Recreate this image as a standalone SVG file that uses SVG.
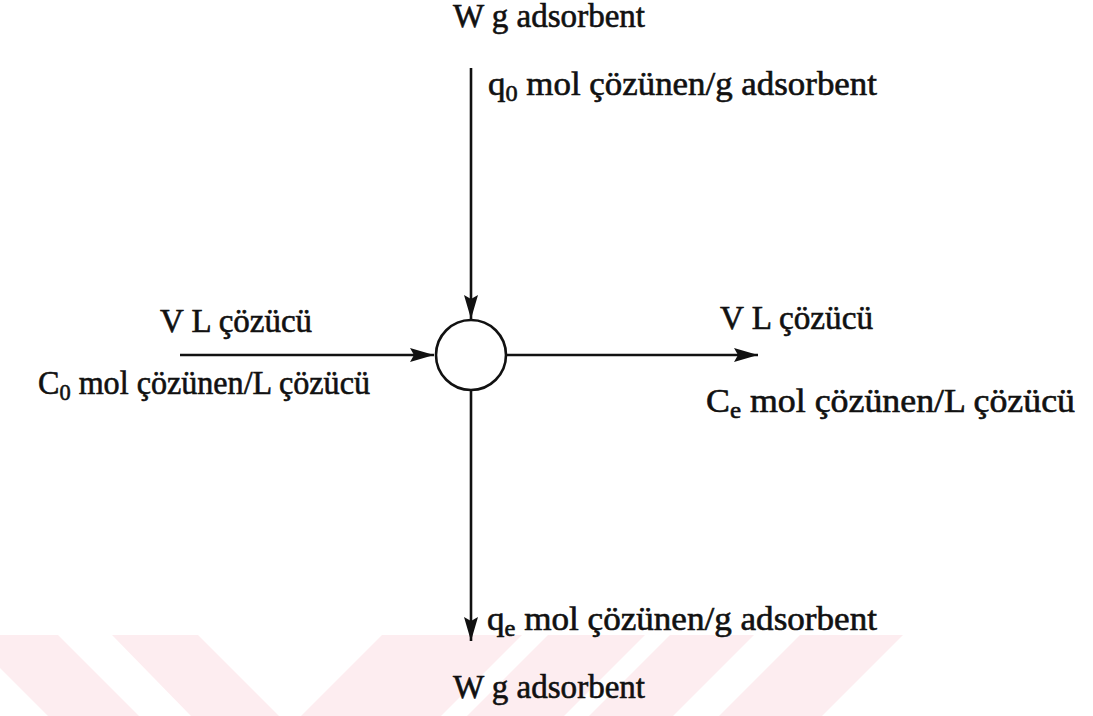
<svg xmlns="http://www.w3.org/2000/svg" width="1093" height="716" viewBox="0 0 1093 716">
<style>
.t{font-family:"Liberation Serif","Times New Roman",serif;font-size:33px;fill:#111;stroke:#111;stroke-width:0.6}
.s{font-size:23px}
.ln{stroke:#111;stroke-width:2.6;fill:none}
.wm{fill:#fdedf0}
</style>
<defs>
<marker id="ah" markerUnits="userSpaceOnUse" markerWidth="26" markerHeight="16" refX="24" refY="8" orient="auto">
<path d="M0,1 L24,8 L0,15 L4,8 z" fill="#111"/>
</marker>
</defs>
<g id="watermark">
<polygon class="wm" points="-33,635 58,635 139,716 48,716"/>
<polygon class="wm" points="112,635 198,635 279,716 191,716"/>
<polygon class="wm" points="382,635 522,635 441,716 301,716"/>
<polygon class="wm" points="548,635 645,635 564,716 467,716"/>
<polygon class="wm" points="670,635 754,635 673,716 589,716"/>
<polygon class="wm" points="800,635 903,635 822,716 719,716"/>
</g>
<g id="connectors">
<line class="ln" x1="471" y1="68" x2="471" y2="319" marker-end="url(#ah)"/>
<line class="ln" x1="180" y1="355" x2="434" y2="355" marker-end="url(#ah)"/>
<line class="ln" x1="506" y1="355" x2="758" y2="355" marker-end="url(#ah)"/>
<line class="ln" x1="471" y1="390" x2="471" y2="641" marker-end="url(#ah)"/>
</g>
<g id="mixer">
<circle cx="471" cy="355" r="35" fill="#fff" stroke="#111" stroke-width="2.6"/>
</g>
<g id="top-label">
<text class="t" x="453" y="27" textLength="192" lengthAdjust="spacingAndGlyphs">W g adsorbent</text>
<text class="t" x="488" y="95" textLength="389" lengthAdjust="spacingAndGlyphs">q<tspan class="s" dy="6">0</tspan><tspan dy="-6"> mol çözünen/g adsorbent</tspan></text>
</g>
<g id="left-label">
<text class="t" x="160" y="332" textLength="152" lengthAdjust="spacingAndGlyphs">V L çözücü</text>
<text class="t" x="38" y="394" textLength="332" lengthAdjust="spacingAndGlyphs">C<tspan class="s" dy="6">0</tspan><tspan dy="-6"> mol çözünen/L çözücü</tspan></text>
</g>
<g id="right-label">
<text class="t" x="720" y="329" textLength="153" lengthAdjust="spacingAndGlyphs">V L çözücü</text>
<text class="t" x="706" y="412" textLength="369" lengthAdjust="spacingAndGlyphs">C<tspan class="s" dy="6">e</tspan><tspan dy="-6"> mol çözünen/L çözücü</tspan></text>
</g>
<g id="bottom-label">
<text class="t" x="487" y="630" textLength="390" lengthAdjust="spacingAndGlyphs">q<tspan class="s" dy="6">e</tspan><tspan dy="-6"> mol çözünen/g adsorbent</tspan></text>
<text class="t" x="453" y="698" textLength="192" lengthAdjust="spacingAndGlyphs">W g adsorbent</text>
</g>
</svg>
